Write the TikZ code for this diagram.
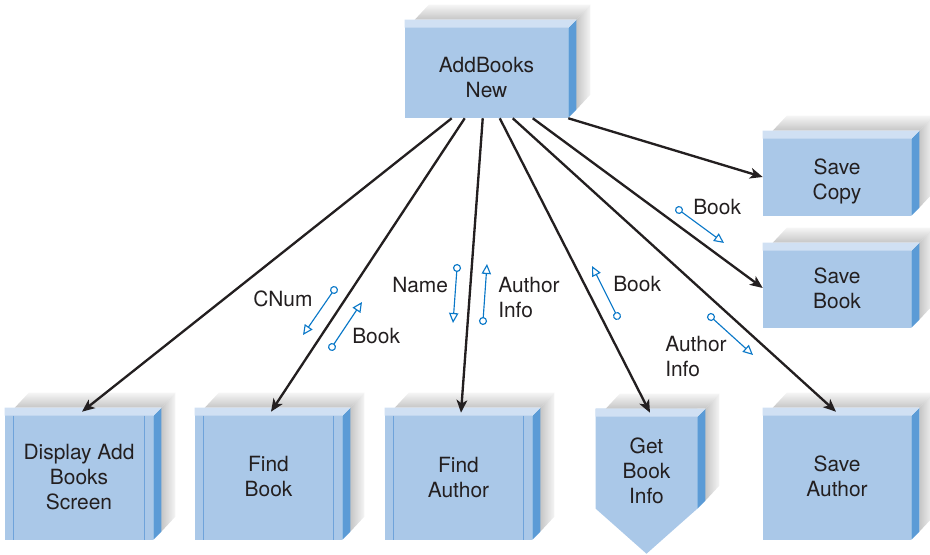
\documentclass[tikz,border=0pt]{standalone}
\usepackage{fontspec}
\setmainfont{TeX Gyre Heros}
\usetikzlibrary{arrows.meta,calc,backgrounds}
\definecolor{face}{HTML}{AAC8E8}
\definecolor{topstrip}{HTML}{D0E0F3}
\definecolor{side}{HTML}{5B9BD6}
\definecolor{innerl}{HTML}{6FA3DA}
\definecolor{ink}{HTML}{231F20}
\definecolor{flowc}{HTML}{0A78C8}
\newcommand\sh[1]{\rule{0pt}{#1}}
\newcommand\shadowdeco[2]{% name, right-side drop (px from north east)
  \shade[top color=gray!8, bottom color=gray!45]
    ($(#1.north west)+(10,0)$) -- ($(#1.north west)+(24,-15)$) --
    ($(#1.north east)+(22,-15)$) -- ($(#1.north east)+(8,0)$) -- cycle;
  \shade[left color=gray!45, right color=gray!8]
    ($(#1.north east)+(8,0)$) -- ($(#1.north east)+(22,-15)$) --
    ($(#1.north east)+(22,#2-23)$) -- ($(#1.north east)+(8,#2-8)$) -- cycle;
  \fill[side] ($(#1.north east)+(0,8)$) -- ($(#1.north east)+(8,0)$) --
    ($(#1.north east)+(8,#2-8)$) -- ($(#1.north east)+(0,#2)$) -- cycle;
  \fill[topstrip] (#1.north west) -- ($(#1.north east)+(8,0)$) --
    ($(#1.north east)+(0,8)$) -- ($(#1.north west)+(0,8)$) -- cycle;
}
\newcommand\innerlines[1]{%
  \draw[innerl, line width=0.9pt] ($(#1.north west)+(9,8)$) -- ($(#1.south west)+(9,0)$);
  \draw[innerl, line width=0.9pt] ($(#1.north east)+(-9,8)$) -- ($(#1.south east)+(-9,0)$);
}
\tikzset{
  box/.style={fill=face, inner sep=0pt, text=ink, align=center,
    font=\fontsize{15.7}{18.75}\selectfont},
  lbl/.style={inner sep=0pt, text=ink, align=left,
    font=\fontsize{15.7}{18.75}\selectfont},
  conn/.style={draw=ink, line width=1.75pt,
    -{Stealth[length=9.5pt,width=8pt,inset=2.5pt]}},
  flow/.style={draw=flowc, line width=0.85pt,
    {Circle[open,length=6pt,width=6pt]}-{Triangle[open,length=7.5pt,width=7pt]},
    shorten <=-3pt},
}
\begin{document}
\begin{tikzpicture}[x=0.75pt,y=-0.75pt]
\path[use as bounding box] (0,0) rectangle (930,555);

% boxes
\node[box, minimum width=122.25pt, minimum height=73.5pt] (top) at (486.5,69) {\sh{24.3pt}AddBooks\\New};
\node[box, minimum width=111pt, minimum height=63.75pt] (savecopy) at (837,173.5) {\sh{24.2pt}Save\\Copy};
\node[box, minimum width=111pt, minimum height=63.75pt] (savebook) at (837,285.5) {\sh{16pt}Save\\Book};
\node[box, minimum width=111pt, minimum height=99pt] (disp) at (79,474) {\sh{15.3pt}Display Add\\Books\\Screen};
\node[box, minimum width=110.25pt, minimum height=99pt] (findbook) at (268.5,474) {\sh{15pt}Find\\Book};
\node[box, minimum width=110.25pt, minimum height=99pt] (findauth) at (458.5,474) {\sh{16pt}Find\\Author};
\node[box, minimum width=111pt, minimum height=99pt] (saveauth) at (837,474) {\sh{14.5pt}Save\\Author};
\node[box, fill=none, minimum width=75.75pt, minimum height=92.25pt] (getbook) at (646.5,470.5) {Get\\Book\\Info};

\begin{scope}[on background layer]
  \fill[face] (getbook.north west) -- (getbook.north east) --
    ($(getbook.north east)+(0,100)$) -- ($(getbook.north)+(0,145)$) --
    ($(getbook.north west)+(0,100)$) -- cycle;
\end{scope}

% 3D decorations
\shadowdeco{top}{98}
\shadowdeco{savecopy}{85}
\shadowdeco{savebook}{85}
\shadowdeco{disp}{132}
\shadowdeco{findbook}{132}
\shadowdeco{findauth}{132}
\shadowdeco{saveauth}{132}
\shadowdeco{getbook}{100}
\innerlines{disp}
\innerlines{findbook}
\innerlines{findauth}

% connectors
\draw[conn] ($(top.south west)+(47,0)$) -- ($(disp.north)+(3,4)$);
\draw[conn] ($(top.south west)+(60,0)$) -- ($(findbook.north)+(2.5,4)$);
\draw[conn] ($(top.south west)+(78,0)$) -- ($(findauth.north)+(2.5,5)$);
\draw[conn] ($(top.south west)+(95,0)$) -- ($(getbook.north)+(3.5,4)$);
\draw[conn] ($(top.south west)+(108,0)$) -- ($(saveauth.north)+(-1,4)$);
\draw[conn] ($(top.south west)+(128,0)$) -- ($(savebook.west)+(0,2.5)$);
\draw[conn] (top.south east) -- ($(savecopy.west)+(0,3.5)$);

% data flows
\draw[flow] (334,290) -- (303,335);
\draw[flow] (332,347) -- (362,302);
\draw[flow] (457,268) -- (453,323);
\draw[flow] (483,321) -- (487,264);
\draw[flow] (617,316) -- (592,266);
\draw[flow] (711,317) -- (753,355);
\draw[flow] (679,210) -- (724,243);

% flow labels
\node[lbl, anchor=base west] (lcnum) at (253,307) {CNum};
\node[lbl, anchor=base west] (lbook1) at (352,344) {Book};
\node[lbl, anchor=base west] (lname) at (392,293) {Name};
\node[lbl, anchor=west] (lauth1) at (498,298) {Author\\Info};
\node[lbl, anchor=base west] (lbook2) at (613,292) {Book};
\node[lbl, anchor=west] (lauth2) at (665,357) {Author\\Info};
\node[lbl, anchor=base west] (lbook3) at (693,215) {Book};
\end{tikzpicture}
\end{document}
